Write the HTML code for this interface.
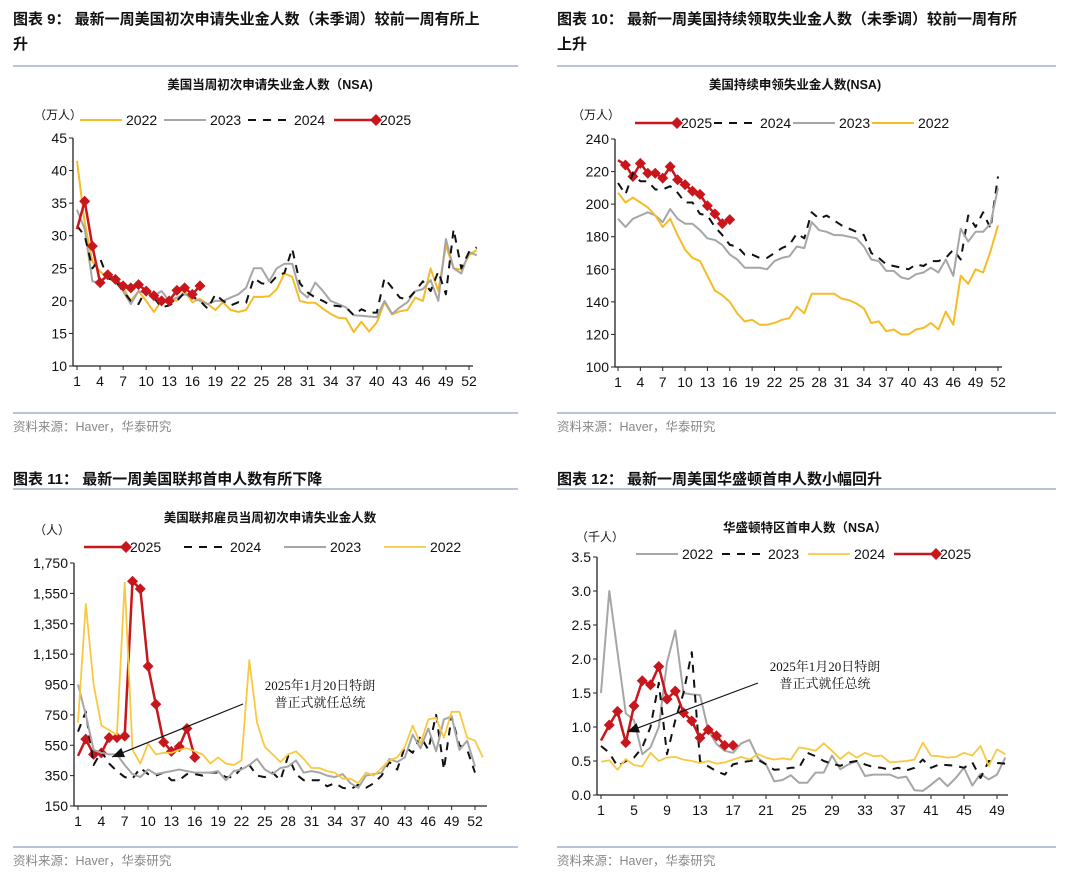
<!DOCTYPE html>
<html><head><meta charset="utf-8">
<style>
html,body{margin:0;padding:0;background:#fff;}
svg{display:block;font-family:"Liberation Sans","Noto Sans CJK SC",sans-serif;}
.ttl{font-size:15px;font-weight:bold;fill:#111;}
.sub{font-size:12.5px;font-weight:bold;fill:#111;}
.src{font-size:12.5px;fill:#888;}
.tk{font-size:14px;fill:#111;}
.lg{font-size:14px;fill:#111;}
.ann{font-size:13px;fill:#111;font-family:"Liberation Serif","Noto Serif CJK SC",serif;}
</style></head>
<body>
<svg id="root" width="1080" height="884" viewBox="0 0 1080 884" xmlns="http://www.w3.org/2000/svg">
<!-- headers -->
<text class="ttl" x="13" y="24">图表 9：   最新一周美国初次申请失业金人数（未季调）较前一周有所上</text>
<text class="ttl" x="13" y="49">升</text>
<line x1="13" y1="66" x2="518" y2="66" stroke="#9db3cc" stroke-width="1.5"/>
<text class="sub" x="270" y="89" text-anchor="middle">美国当周初次申请失业金人数（NSA)</text>
<line x1="13" y1="413" x2="518" y2="413" stroke="#9db3cc" stroke-width="1.5"/>
<text class="src" x="13" y="431">资料来源：Haver，华泰研究</text>

<text class="ttl" x="557" y="24">图表 10：   最新一周美国持续领取失业金人数（未季调）较前一周有所</text>
<text class="ttl" x="557" y="49">上升</text>
<line x1="557" y1="66" x2="1056" y2="66" stroke="#9db3cc" stroke-width="1.5"/>
<text class="sub" x="795" y="89" text-anchor="middle">美国持续申领失业金人数(NSA)</text>
<line x1="557" y1="413" x2="1056" y2="413" stroke="#9db3cc" stroke-width="1.5"/>
<text class="src" x="557" y="431">资料来源：Haver，华泰研究</text>

<text class="ttl" x="13" y="484">图表 11：   最新一周美国联邦首申人数有所下降</text>
<line x1="13" y1="489" x2="518" y2="489" stroke="#9db3cc" stroke-width="1.5"/>
<text class="sub" x="270" y="522" text-anchor="middle">美国联邦雇员当周初次申请失业金人数</text>
<line x1="13" y1="847" x2="518" y2="847" stroke="#9db3cc" stroke-width="1.5"/>
<text class="src" x="13" y="865">资料来源：Haver，华泰研究</text>

<text class="ttl" x="557" y="484">图表 12：   最新一周美国华盛顿首申人数小幅回升</text>
<line x1="557" y1="489" x2="1056" y2="489" stroke="#9db3cc" stroke-width="1.5"/>
<text class="sub" x="805" y="532" text-anchor="middle">华盛顿特区首申人数（NSA）</text>
<line x1="557" y1="847" x2="1056" y2="847" stroke="#9db3cc" stroke-width="1.5"/>
<text class="src" x="557" y="865">资料来源：Haver，华泰研究</text>
</svg>
<script>
// ---------- Chart 9 data (万人) ----------
const c1Ticks = [10,15,20,25,30,35,40,45];
const c1Weeks = [1,4,7,10,13,16,19,22,25,28,31,34,37,40,43,46,49,52];
const c1y2022 = [41.5,32,26,24.5,23.5,23,22,20,21.5,20,18.3,20,20.5,20,21.5,19.8,20.3,19.5,18.6,19.8,18.6,18.3,18.6,20.6,20.6,20.7,21.8,24.2,23.7,20,19.7,19.7,18.8,18,17.4,17.3,15.2,16.8,15.3,16.7,19.8,17.9,18.4,18.6,20.5,20,25,21.5,28.5,25,24.8,27,27.8];
const c1y2023 = [34,31,23,22.8,24,23.5,21.5,19.5,21.5,21.2,20.8,21.5,20,20.5,21,20.5,20,19.5,20,20,20.5,21,22,25,25,23,25,25.7,25.7,21.5,20.5,22.8,21.5,20,19.5,19,17.8,17.7,17.6,17.5,20,18,19,19.8,21.5,21.8,23.2,20,29.5,25,24.2,27.5,27];
const c1y2024 = [31.5,30,25,26.5,23.5,23,21.5,20,19.5,21.8,20.5,19,19.3,20,21.3,20.7,20,18.8,21,20,19.3,19.8,19.7,23.5,22.7,22.5,23.8,24.3,28,22.7,21.3,20.5,20,19.3,19.2,19,17.8,18.7,18.2,18.2,23.5,22,20.5,20.2,21.5,23,21.5,24.5,21,31,25,27.5,28.2];
const c1y2025 = [31,35.3,28.4,22.8,24,23.3,22.3,22,22.5,21.5,20.8,20,20,21.6,22,21,22.3];
// ---------- Chart 10 data (万人) ----------
const c2Ticks = [100,120,140,160,180,200,220,240];
const c2Weeks = [1,4,7,10,13,16,19,22,25,28,31,34,37,40,43,46,49,52];
const c2y2022 = [207,201,204,201,198,193,186,191,181,172,167,165,156,147,144,140,133,128,129,126,126,127,129,130,137,133,145,145,145,145,142,141,139,136,127,128,122,123,120,120,123,124,127,123,134,126,156,151,160,158,171,187];
const c2y2023 = [191,186,191,193,195,193,189,197,191,188,188,184,179,178,175,169,166,161,161,161,160,165,167,168,174,173,189,184,183,181,181,180,179,174,166,165,159,159,155,154,157,158,161,158,166,156,185,177,183,183,188,210];
const c2y2024 = [213,206,219,214,214,209,209,211,207,201,201,194,193,186,181,175,174,169,169,167,167,170,173,175,182,179,195,191,193,190,187,185,183,181,170,167,163,162,161,160,163,162,165,165,167,172,166,193,186,195,185,217];
const c2y2025 = [227,224,217,225,219,219,216,223,215,212,208,206,199,194,188,190.5];
// ---------- Chart 11 data (人) ----------
const c3Ticks = [150,350,550,750,950,1150,1350,1550,1750];
const c3TickLabels = ["150","350","550","750","950","1,150","1,350","1,550","1,750"];
const c3Weeks = [1,4,7,10,13,16,19,22,25,28,31,34,37,40,43,46,49,52];
const c3y2022 = [700,1480,950,680,650,620,1620,520,430,560,490,500,500,520,530,510,490,430,470,430,420,450,1110,700,540,490,440,490,510,460,400,400,380,370,330,330,300,370,350,400,450,470,540,680,560,720,730,600,770,770,600,580,470];
const c3y2023 = [950,750,520,500,490,490,420,360,340,390,360,370,380,390,380,370,370,370,380,320,380,390,420,460,390,360,400,410,450,370,380,370,350,340,360,300,270,350,360,370,460,440,470,620,530,660,510,720,740,520,580,410];
const c3y2024 = [640,770,420,510,430,380,340,330,400,360,350,370,320,320,360,360,350,370,370,340,340,400,420,350,340,370,320,480,360,320,320,320,280,300,270,260,290,270,300,350,440,390,540,500,610,520,750,390,740,550,520,370];
const c3y2025 = [480,590,490,500,600,600,610,1630,1580,1070,820,570,510,540,660,470];
// ---------- Chart 12 data (千人) ----------
const c4Ticks = [0,0.5,1,1.5,2,2.5,3,3.5];
const c4TickLabels = ["0.0","0.5","1.0","1.5","2.0","2.5","3.0","3.5"];
const c4Weeks = [1,5,9,13,17,21,25,29,33,37,41,45,49];
const c4y2022 = [1.5,3.0,2.1,1.2,1.1,0.6,0.7,1.0,1.95,2.42,1.5,1.48,1.47,0.95,0.75,0.65,0.62,0.76,0.81,0.55,0.45,0.2,0.22,0.29,0.18,0.18,0.33,0.33,0.58,0.38,0.45,0.5,0.28,0.3,0.3,0.3,0.25,0.27,0.07,0.06,0.15,0.25,0.13,0.25,0.4,0.14,0.31,0.23,0.3,0.55];
const c4y2023 = [0.72,0.62,0.42,0.5,0.55,0.7,1.0,1.65,0.6,1.1,1.5,2.1,0.5,0.42,0.35,0.3,0.45,0.48,0.5,0.52,0.45,0.37,0.38,0.4,0.4,0.62,0.57,0.5,0.46,0.43,0.48,0.5,0.45,0.41,0.4,0.37,0.4,0.36,0.4,0.52,0.4,0.45,0.44,0.43,0.4,0.48,0.25,0.5,0.47,0.46];
const c4y2024 = [0.49,0.51,0.37,0.53,0.44,0.42,0.62,0.5,0.55,0.56,0.52,0.5,0.47,0.5,0.46,0.48,0.52,0.56,0.52,0.6,0.55,0.52,0.54,0.52,0.7,0.68,0.65,0.76,0.65,0.53,0.63,0.55,0.62,0.57,0.58,0.48,0.49,0.5,0.52,0.77,0.58,0.57,0.55,0.56,0.62,0.58,0.72,0.43,0.67,0.6];
const c4y2025 = [0.8,1.03,1.23,0.77,1.31,1.68,1.62,1.89,1.41,1.53,1.21,1.09,0.84,0.96,0.87,0.73,0.73];

const NS = "http://www.w3.org/2000/svg";
const root = document.getElementById('root');
const YEL = "#f5bc28", GRY = "#a6a6a6", BLK = "#111", RED = "#c8161d";
function mk(tag, attrs, parent){const e=document.createElementNS(NS,tag);for(const k in attrs)e.setAttribute(k,attrs[k]);(parent||root).appendChild(e);return e;}

function drawChart(cfg){
  const g = mk('g',{});
  
  
  const xs = w => cfg.x1 + (w-1)*(cfg.xN-cfg.x1)/(cfg.wN-1);
  const ys = v => cfg.yB + (v-cfg.vMin)*(cfg.yT-cfg.yB)/(cfg.vMax-cfg.vMin);
  // axes
  const ax = mk('line',{x1:cfg.ax,y1:cfg.yT,x2:cfg.ax,y2:cfg.yB,stroke:"#222","stroke-width":1.3},g);
  
  
  const bx = mk('line',{x1:cfg.ax,y1:cfg.yB,x2:cfg.axEnd,y2:cfg.yB,stroke:"#222","stroke-width":1.3},g);
  
  
  cfg.ticks.forEach((t,i)=>{
    const y=ys(t);
    mk('line',{x1:cfg.ax-4,y1:y,x2:cfg.ax,y2:y,stroke:"#222","stroke-width":1},g);
    const tx=mk('text',{x:cfg.ax-6,y:y+5,"text-anchor":"end",class:"tk"},g);
    tx.textContent = cfg.tickLabels ? cfg.tickLabels[i] : String(t);
    
    
  });
  cfg.weeks.forEach(w=>{
    const x=xs(w);
    mk('line',{x1:x,y1:cfg.yB,x2:x,y2:cfg.yB+4,stroke:"#222","stroke-width":1},g);
    const tx=mk('text',{x:x,y:cfg.yB+20,"text-anchor":"middle",class:"tk"},g);
    tx.textContent=String(w);
    
    
  });
  // series
  cfg.series.forEach(s=>{
    const d = s.data.map((v,i)=>(i?'L':'M')+xs(i+1).toFixed(1)+' '+ys(v).toFixed(1)).join(' ');
    const p = mk('path',{d:d,fill:"none",stroke:s.color,"stroke-width":s.w||2,"stroke-linejoin":"round"},g);
    if(s.dash) p.setAttribute('stroke-dasharray',s.dash);
    
    
    if(s.marker){
      s.data.forEach((v,i)=>{
        if(i===0) return;
        const x=xs(i+1), y=ys(v), r=5.5;
        const m=mk('path',{d:`M${x} ${y-r} L${x+r} ${y} L${x} ${y+r} L${x-r} ${y} Z`,fill:s.color},g);
        
        
      });
    }
  });
  // legend
  cfg.legend.forEach(l=>{
    const s = cfg.series.find(q=>q.label===l.label);
    const ln = mk('line',{x1:l.x,y1:cfg.legY,x2:l.x+42,y2:cfg.legY,stroke:s.color,"stroke-width":s.w||2},g);
    if(s.dash) ln.setAttribute('stroke-dasharray',s.dash);
    
    
    if(s.marker){const x=l.x+42,y=cfg.legY,r=6;mk('path',{d:`M${x} ${y-r} L${x+r} ${y} L${x} ${y+r} L${x-r} ${y} Z`,fill:s.color},g);}
    const t = mk('text',{x:l.x+46,y:cfg.legY+5,class:"lg"},g);
    t.textContent = s.label;
    
    
  });
  const u = mk('text',{x:cfg.unitX,y:cfg.unitY,class:"tk","font-size":"12"},g);
  u.setAttribute('style','font-size:12px');
  u.textContent = cfg.unit;
  
  
  if(cfg.ann){
    const a=cfg.ann;
    mk('line',{x1:a.fx,y1:a.fy,x2:a.tx,y2:a.ty,stroke:"#111","stroke-width":1.2},g);
    const ang=Math.atan2(a.ty-a.fy,a.tx-a.fx), L=12, W=5;
    const bx0=a.tx-L*Math.cos(ang), by0=a.ty-L*Math.sin(ang);
    mk('path',{d:`M${a.tx} ${a.ty} L${bx0-W*Math.sin(ang)} ${by0+W*Math.cos(ang)} L${bx0+W*Math.sin(ang)} ${by0-W*Math.cos(ang)} Z`,fill:"#111"},g);
    const t1=mk('text',{x:a.cx,y:a.cy,"text-anchor":"middle",class:"ann"},g);
    t1.textContent="2025年1月20日特朗";
    
    
    const t2=mk('text',{x:a.cx,y:a.cy+17,"text-anchor":"middle",class:"ann"},g);
    t2.textContent="普正式就任总统";
    
    
  }
}

drawChart({name:"chart9-initial-claims",ax:73,axEnd:473,x1:77,xN:469,wN:52,yT:138,yB:366,vMin:10,vMax:45,
  ticks:c1Ticks,weeks:c1Weeks,legY:120,unit:"（万人）",unitX:34,unitY:119,
  series:[{label:"2022",data:c1y2022,color:YEL},{label:"2023",data:c1y2023,color:GRY},
          {label:"2024",data:c1y2024,color:BLK,dash:"8,7"},{label:"2025",data:c1y2025,color:RED,w:2.5,marker:true}],
  legend:[{label:"2022",x:80},{label:"2023",x:164},{label:"2024",x:248},{label:"2025",x:334}]});

drawChart({name:"chart10-continuing-claims",ax:615,axEnd:1002,x1:618,xN:998,wN:52,yT:139,yB:367,vMin:100,vMax:240,
  ticks:c2Ticks,weeks:c2Weeks,legY:123,unit:"（万人）",unitX:572,unitY:119,
  series:[{label:"2025",data:c2y2025,color:RED,w:2.5,marker:true},{label:"2024",data:c2y2024,color:BLK,dash:"8,7"},
          {label:"2023",data:c2y2023,color:GRY},{label:"2022",data:c2y2022,color:YEL}],
  legend:[{label:"2025",x:635},{label:"2024",x:714},{label:"2023",x:793},{label:"2022",x:872}]});

drawChart({name:"chart11-federal-claims",ax:74,axEnd:487,x1:78,xN:475,wN:52,yT:563,yB:806,vMin:150,vMax:1750,
  ticks:c3Ticks,tickLabels:c3TickLabels,weeks:c3Weeks,legY:547,unit:"（人）",unitX:34,unitY:534,
  series:[{label:"2025",data:c3y2025,color:RED,w:2.5,marker:true},{label:"2024",data:c3y2024,color:BLK,dash:"8,7"},
          {label:"2023",data:c3y2023,color:GRY},{label:"2022",data:c3y2022,color:"#f8c940",w:1.8}],
  legend:[{label:"2025",x:84},{label:"2024",x:184},{label:"2023",x:284},{label:"2022",x:384}],
  ann:{fx:243,fy:704,tx:112,ty:757,cx:320,cy:690}});

drawChart({name:"chart12-dc-claims",ax:597,axEnd:1008,x1:601,xN:997,wN:49,yT:557,yB:795,vMin:0,vMax:3.5,
  ticks:c4Ticks,tickLabels:c4TickLabels,weeks:c4Weeks,legY:554,unit:"（千人）",unitX:576,unitY:541,
  series:[{label:"2022",data:c4y2022,color:GRY},{label:"2023",data:c4y2023,color:BLK,dash:"8,7"},
          {label:"2024",data:c4y2024,color:"#f8c940",w:1.8},{label:"2025",data:c4y2025,color:RED,w:2.5,marker:true}],
  legend:[{label:"2022",x:636},{label:"2023",x:722},{label:"2024",x:808},{label:"2025",x:894}],
  ann:{fx:758,fy:683,tx:627,ty:732,cx:825,cy:671}});
</script>
</body></html>
